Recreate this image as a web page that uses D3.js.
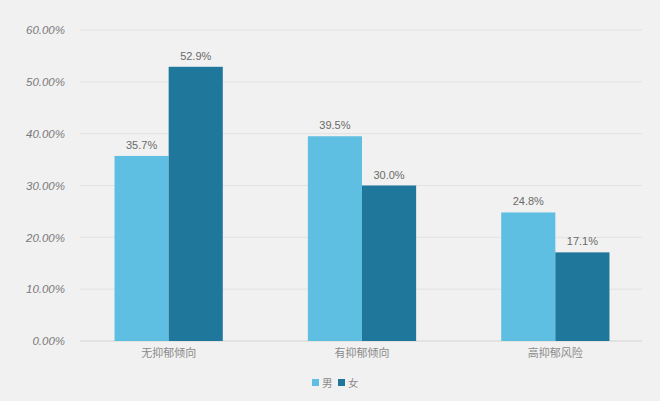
<!DOCTYPE html>
<html><head><meta charset="utf-8">
<script src="https://cdn.jsdelivr.net/npm/d3@7"></script>
<style>
html,body{margin:0;padding:0;background:#f1f1f1;}
svg{display:block;}
</style></head>
<body>
<svg id="c" width="660" height="401"></svg>
<script>
const categories = ["无抑郁倾向", "有抑郁倾向", "高抑郁风险"];
const seriesNames = ["男", "女"];
const male = [35.7, 39.5, 24.8];
const female = [52.9, 30.0, 17.1];
const yTicks = [0, 10, 20, 30, 40, 50, 60];
const colors = ["#5fbfe2", "#1f789c"];

const svg = d3.select("#c");
const W = 660, H = 401;
const m = {left: 72, right: 8, top: 30, bottom: 60};
const x = d3.scaleBand().domain(categories).range([m.left, W - m.right]).paddingInner(0.44).paddingOuter(0.22);
const y = d3.scaleLinear().domain([0, 60]).range([H - m.bottom, m.top]);
const x1 = d3.scaleBand().domain(seriesNames).range([0, x.bandwidth()]);

svg.append("rect").attr("width", W).attr("height", H).attr("fill", "#f1f1f1");

// grid
svg.append("g").selectAll("line").data(yTicks).join("line")
  .attr("x1", 80).attr("x2", 642)
  .attr("y1", d => y(d)).attr("y2", d => y(d))
  .attr("stroke", d => d === 0 ? "#d4d4d4" : "#e2e2e2").attr("stroke-width", 1);

// y axis labels
const yAxis = d3.axisLeft(y).tickValues(yTicks).tickSize(0).tickPadding(0)
  .tickFormat(d => d.toFixed(2) + "%");
const ga = svg.append("g").attr("transform", "translate(65,0)").call(yAxis);
ga.select(".domain").remove();
ga.selectAll("text").attr("font-family", "'Liberation Sans', Arial, sans-serif")
  .attr("font-style", "italic").attr("font-size", 11.5).attr("fill", "#7a7a7a");

const data = categories.map((c, i) => ({cat: c, vals: [male[i], female[i]]}));
const groups = svg.append("g").selectAll("g").data(data).join("g")
  .attr("transform", d => `translate(${x(d.cat)},0)`);
groups.selectAll("rect").data(d => d.vals.map((v, j) => ({k: seriesNames[j], v, j}))).join("rect")
  .attr("x", d => x1(d.k)).attr("width", x1.bandwidth())
  .attr("y", d => y(d.v)).attr("height", d => y(0) - y(d.v))
  .attr("fill", d => colors[d.j]);
groups.selectAll("text").data(d => d.vals.map((v, j) => ({k: seriesNames[j], v, j}))).join("text")
  .attr("x", d => x1(d.k) + x1.bandwidth() / 2).attr("y", d => y(d.v) - 7)
  .attr("text-anchor", "middle").attr("font-family", "'Liberation Sans', Arial, sans-serif")
  .attr("font-size", 11).attr("fill", "#6a6a6a").text(d => d.v.toFixed(1) + "%");

// x axis labels
const xAxis = d3.axisBottom(x).tickSize(0).tickPadding(8);
const gx = svg.append("g").attr("transform", `translate(0,${y(0)})`).call(xAxis);
gx.select(".domain").remove();
gx.selectAll("text").attr("font-family", "'Noto Sans CJK SC', sans-serif")
  .attr("font-size", 11).attr("fill", "#8a8a8a");

// legend
const lg = svg.append("g").attr("transform", "translate(312,383)");
seriesNames.forEach((s, i) => {
  const g = lg.append("g").attr("transform", `translate(${i * 26},0)`);
  g.append("rect").attr("x", 0).attr("y", -4).attr("width", 7).attr("height", 7).attr("fill", colors[i]);
  g.append("text").attr("x", 10).attr("y", 4).attr("font-family", "'Noto Sans CJK SC', sans-serif")
    .attr("font-size", 10.5).attr("fill", "#8a8a8a").text(s);
});
</script>
</body></html>
